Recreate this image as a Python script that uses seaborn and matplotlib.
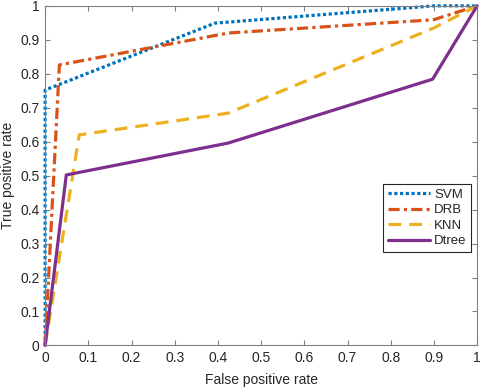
import matplotlib
matplotlib.use("Agg")
import matplotlib.pyplot as plt
import seaborn as sns
import pandas as pd

sns.set_theme(style="white")
plt.rcParams['font.family'] = ['Liberation Sans', 'DejaVu Sans']

svm_fpr = [0, 0, 0.393, 0.9, 1.0]
svm_tpr = [0, 0.752, 0.949, 1.0, 1.0]
drb_fpr = [0, 0.033, 0.424, 0.899, 1.0]
drb_tpr = [0, 0.826, 0.920, 0.959, 1.0]
knn_fpr = [0, 0.079, 0.424, 0.9, 1.0]
knn_tpr = [0, 0.620, 0.684, 0.935, 1.0]
dtree_fpr = [0, 0.049, 0.424, 0.897, 1.0]
dtree_tpr = [0, 0.502, 0.596, 0.784, 1.0]

series = [
    ("SVM", svm_fpr, svm_tpr, "#0072BD", (0, (1, 0.8))),
    ("DRB", drb_fpr, drb_tpr, "#D95319", (0, (3.5, 1.3, 1, 1.3))),
    ("KNN", knn_fpr, knn_tpr, "#EDB120", (0, (4, 2.5))),
    ("Dtree", dtree_fpr, dtree_tpr, "#7E2F8E", "-"),
]

fig = plt.figure(figsize=(4.8, 3.89), dpi=100)
ax = fig.add_axes([0.094, 0.112, 0.900, 0.873])

for name, x, y, c, ls in series:
    df = pd.DataFrame({"fpr": x, "tpr": y})
    sns.lineplot(data=df, x="fpr", y="tpr", ax=ax, color=c, linestyle=ls,
                 linewidth=2.3, sort=False, estimator=None, label=name)
for ln in ax.get_lines():
    ln.set_clip_on(False)

ticks = [i / 10 for i in range(11)]
labels = ["0"] + [f"{t:.1f}" for t in ticks[1:-1]] + ["1"]
ax.set_xlim(0, 1)
ax.set_ylim(0, 1)
ax.set_xticks(ticks)
ax.set_xticklabels(labels)
ax.set_yticks(ticks)
ax.set_yticklabels(labels)
ax.set_xlabel("False positive rate", fontsize=10, color="#262626", labelpad=6)
ax.set_ylabel("True positive rate", fontsize=10, color="#262626", labelpad=4)
ax.tick_params(direction="in", length=3.5, width=0.8, colors="#808080",
               labelcolor="#262626", labelsize=10, top=True, right=True,
               bottom=True, left=True, pad=4)
for s in ax.spines.values():
    s.set_color("#808080")
    s.set_linewidth(0.8)
ax.grid(False)

leg = ax.legend(loc="upper right", bbox_to_anchor=(0.986, 0.476), fontsize=9.5,
                frameon=True, fancybox=False, framealpha=1, edgecolor="#262626",
                handlelength=3.2, borderpad=0.35, labelspacing=0.25, handletextpad=0.3,
                borderaxespad=0)
leg.get_frame().set_linewidth(0.8)

fig.savefig("out.png", dpi=100)
